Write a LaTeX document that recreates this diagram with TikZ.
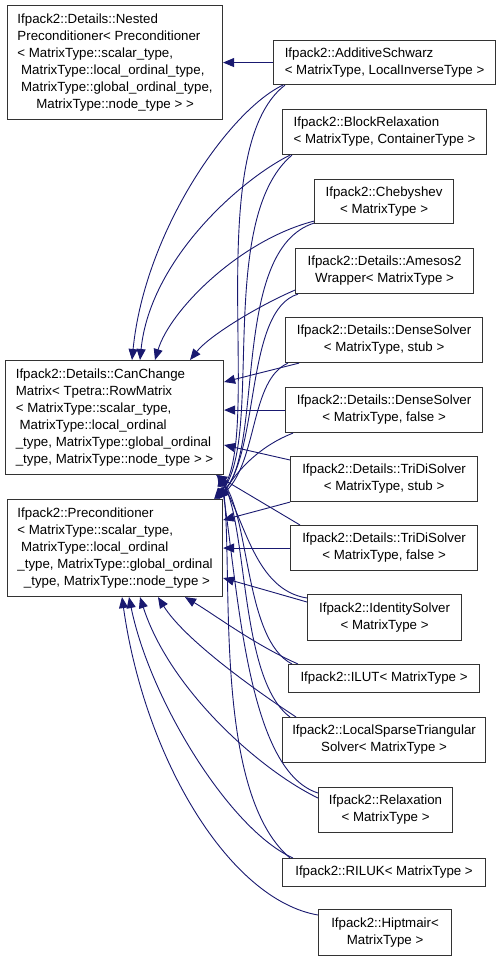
\documentclass[tikz,border=0pt]{standalone}
\usepackage{fontspec}
\setmainfont{Liberation Sans}
\usetikzlibrary{arrows.meta,calc}
\definecolor{edgeblue}{RGB}{25,25,112}
\newcommand\dlab[2]{\begin{tabular}{@{}l@{}}#1\\\multicolumn{1}{@{}c@{}}{#2}\end{tabular}}
\begin{document}
\begin{tikzpicture}[x=1pt,y=-1pt,
  box/.style={draw=black!80, line width=1.1pt, fill=white, inner sep=0pt, anchor=north west,
    font=\fontsize{13.3}{17}\selectfont},
  edge/.style={draw=edgeblue, line width=0.9pt, -{Triangle[length=11pt,width=9pt]}}]
\useasboundingbox (0,0) rectangle (501,960);
\fill[white] (0,0) rectangle (501,960);
% base classes
\node[box, minimum width=215, minimum height=114] (ns) at (7,5)
  {\dlab{Ifpack2::Details::Nested\\Preconditioner< Preconditioner\\< MatrixType::scalar\_type,\\\ MatrixType::local\_ordinal\_type,\\\ MatrixType::global\_ordinal\_type,}{MatrixType::node\_type > >}};
\node[box, minimum width=218, minimum height=114] (cc) at (5,360)
  {\dlab{Ifpack2::Details::CanChange\\Matrix< Tpetra::RowMatrix\\< MatrixType::scalar\_type,\\\ MatrixType::local\_ordinal\\\_type, MatrixType::global\_ordinal}{\_type, MatrixType::node\_type > >}};
\node[box, minimum width=215, minimum height=97] (pc) at (7,499)
  {\dlab{Ifpack2::Preconditioner\\< MatrixType::scalar\_type,\\\ MatrixType::local\_ordinal\\\_type, MatrixType::global\_ordinal}{\ \_type, MatrixType::node\_type >}};
% derived classes
\node[box, minimum width=222, minimum height=44] (as) at (273,40) {\dlab{Ifpack2::AdditiveSchwarz}{< MatrixType, LocalInverseType >}};
\node[box, minimum width=204, minimum height=45] (br) at (282,109) {\dlab{Ifpack2::BlockRelaxation}{< MatrixType, ContainerType >}};
\node[box, minimum width=139, minimum height=44] (ch) at (314,179) {\dlab{Ifpack2::Chebyshev}{< MatrixType >}};
\node[box, minimum width=178, minimum height=45] (am) at (295,248) {\dlab{Ifpack2::Details::Amesos2}{Wrapper< MatrixType >}};
\node[box, minimum width=197, minimum height=45] (ds1) at (285,317) {\dlab{Ifpack2::Details::DenseSolver}{< MatrixType, stub >}};
\node[box, minimum width=197, minimum height=45] (ds2) at (285,387) {\dlab{Ifpack2::Details::DenseSolver}{< MatrixType, false >}};
\node[box, minimum width=187, minimum height=45] (td1) at (290,456) {\dlab{Ifpack2::Details::TriDiSolver}{< MatrixType, stub >}};
\node[box, minimum width=187, minimum height=45] (td2) at (290,525) {\dlab{Ifpack2::Details::TriDiSolver}{< MatrixType, false >}};
\node[box, minimum width=154, minimum height=46] (id) at (307,594) {\dlab{Ifpack2::IdentitySolver}{< MatrixType >}};
\node[box, minimum width=191, minimum height=28] (il) at (288,664) {Ifpack2::ILUT< MatrixType >};
\node[box, minimum width=203, minimum height=45] (ls) at (282,717) {\dlab{Ifpack2::LocalSparseTriangular}{Solver< MatrixType >}};
\node[box, minimum width=134, minimum height=45] (rx) at (318,787) {\dlab{Ifpack2::Relaxation}{< MatrixType >}};
\node[box, minimum width=203, minimum height=28] (rk) at (282,858) {Ifpack2::RILUK< MatrixType >};
\node[box, minimum width=133, minimum height=46] (hp) at (318,909) {\dlab{Ifpack2::Hiptmair<}{MatrixType >}};
% edges
\draw[edge] (as.west) -- (as.west -| ns.east);
\draw[edge] ([shift={(10,0)}]as.south west) .. controls (230,110) and (145,230) .. ([shift={(127,0)}]cc.north west);
\draw[edge] ([shift={(12,0)}]as.south west) .. controls (200,150) and (265,440) .. ([shift={(-9,0)}]pc.north east);
\draw[edge] ([shift={(8,0)}]br.south west) .. controls (240,180) and (150,260) .. ([shift={(135,0)}]cc.north west);
\draw[edge] ([shift={(10,0)}]br.south west) .. controls (215,220) and (265,440) .. ([shift={(-8,0)}]pc.north east);
\draw[edge] ([shift={(0,-3)}]ch.south west) .. controls (240,240) and (170,310) .. ([shift={(150,0)}]cc.north west);
\draw[edge] ([shift={(0,-1)}]ch.south west) .. controls (230,250) and (265,450) .. ([shift={(-7,0)}]pc.north east);
\draw[edge] ([shift={(0,-4)}]am.south west) .. controls (260,305) and (210,335) .. ([shift={(185,0)}]cc.north west);
\draw[edge] ([shift={(3,0)}]am.south west) .. controls (245,310) and (260,450) .. ([shift={(-6,0)}]pc.north east);
\draw[edge] ([shift={(14,0)}]ds1.south west) -- ([shift={(0,22)}]cc.north east);
\draw[edge] ([shift={(3,0)}]ds1.south west) .. controls (250,380) and (258,460) .. ([shift={(-5,0)}]pc.north east);
\draw[edge] (ds2.west) -- (ds2.west -| cc.east);
\draw[edge] ([shift={(8,0)}]ds2.south west) .. controls (255,448) and (235,475) .. ([shift={(-4,0)}]pc.north east);
\draw[edge] ([shift={(0,4)}]td1.north west) -- ([shift={(0,85)}]cc.north east);
\draw[edge] (td1.south west) -- ([shift={(0,21)}]pc.north east);
\draw[edge] ([shift={(10,0)}]td2.north west) -- ([shift={(-8,0)}]cc.south east);
\draw[edge] (td2.west) -- (td2.west -| pc.east);
\draw[edge] ([shift={(0,8)}]id.north west) -- ([shift={(0,79)}]pc.north east);
\draw[edge] ([shift={(0,4)}]id.north west) .. controls (255,590) and (245,520) .. ([shift={(-7,0)}]cc.south east);
\draw[edge] ([shift={(10,0)}]il.north west) .. controls (255,645) and (215,615) .. ([shift={(178,0)}]pc.south west);
\draw[edge] ([shift={(4,0)}]il.north west) .. controls (245,640) and (250,520) .. ([shift={(-6,0)}]cc.south east);
\draw[edge] ([shift={(14,0)}]ls.north west) .. controls (255,690) and (185,640) .. ([shift={(151,0)}]pc.south west);
\draw[edge] ([shift={(8,0)}]ls.north west) .. controls (240,680) and (248,530) .. ([shift={(-5,0)}]cc.south east);
\draw[edge] ([shift={(0,11)}]rx.north west) .. controls (260,770) and (170,690) .. ([shift={(133,0)}]pc.south west);
\draw[edge] ([shift={(0,6)}]rx.north west) .. controls (245,770) and (238,580) .. ([shift={(-4,0)}]cc.south east);
\draw[edge] ([shift={(11,0)}]rk.north west) .. controls (230,830) and (150,700) .. ([shift={(122,0)}]pc.south west);
\draw[edge] ([shift={(8,0)}]rk.north west) .. controls (210,790) and (235,560) .. ([shift={(-3,0)}]cc.south east);
\draw[edge] ([shift={(0,6)}]hp.north west) .. controls (230,900) and (145,760) .. ([shift={(115,0)}]pc.south west);
\end{tikzpicture}
\end{document}
